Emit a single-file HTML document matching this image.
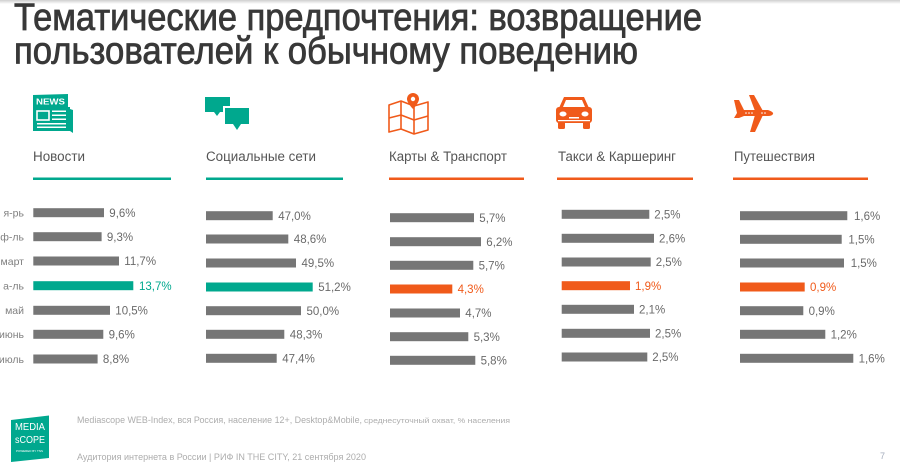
<!DOCTYPE html>
<html lang="ru">
<head>
<meta charset="utf-8">
<style>
  html,body{margin:0;padding:0;background:#fff;}
  body{width:900px;height:468px;overflow:hidden;}
  svg{display:block;font-family:"Liberation Sans","Noto Sans CJK SC",sans-serif;}
</style>
</head>
<body>
<svg width="900" height="468" viewBox="0 0 900 468" xmlns="http://www.w3.org/2000/svg">
  <defs>
    <linearGradient id="topg" x1="0" y1="0" x2="0" y2="1">
      <stop offset="0" stop-color="#cfcfcf"/>
      <stop offset="1" stop-color="#ffffff"/>
    </linearGradient>
  </defs>
  <rect x="0" y="0" width="900" height="468" fill="#fff"/>
  <rect x="0" y="0" width="900" height="4" fill="url(#topg)"/>

  <!-- Title -->
  <g fill="#383838" stroke="#383838" stroke-width="0.8">
  <text x="14" y="30" font-size="38" textLength="688" lengthAdjust="spacingAndGlyphs">Тематические предпочтения: возвращение</text>
  <text x="14" y="63.5" font-size="38" textLength="624" lengthAdjust="spacingAndGlyphs">пользователей к обычному поведению</text>
  </g>

  <!-- ICONS -->
  <!-- News icon -->
  <g>
    <polygon points="33,95 68,94 68,107 33,107" fill="#00a88e"/>
    <text x="36" y="104.5" font-size="8.5" font-weight="bold" fill="#fff" textLength="29" lengthAdjust="spacingAndGlyphs">NEWS</text>
    <rect x="33" y="107" width="37" height="24" fill="#00a88e"/>
    <polygon points="70,109 73,110 73,133 70,131" fill="#00a88e"/>
    <rect x="37" y="111" width="12" height="9" fill="none" stroke="#fff" stroke-width="1.6"/>
    <rect x="52" y="110.5" width="14" height="1.5" fill="#fff"/>
    <rect x="52" y="114.5" width="14" height="1.5" fill="#fff"/>
    <rect x="52" y="118.5" width="14" height="1.5" fill="#fff"/>
    <rect x="37" y="123" width="29" height="1.5" fill="#fff"/>
    <rect x="37" y="126.5" width="29" height="1.5" fill="#fff"/>
  </g>
  <!-- Chat icon -->
  <g>
    <rect x="205" y="97" width="25" height="15" fill="#00a88e"/>
    <polygon points="214,112 220,112 217,116" fill="#00a88e"/>
    <rect x="223" y="106" width="27" height="19" fill="#fff"/>
    <rect x="225" y="108" width="24" height="16" fill="#00a88e"/>
    <polygon points="233,124 241,124 237,130" fill="#00a88e"/>
  </g>
  <!-- Map icon -->
  <g fill="none" stroke="#f05a1a" stroke-width="1.6" stroke-linejoin="round">
    <polygon points="389,105 401,101 414,106 428,102 428,130 414,134 401,129 389,132"/>
    <line x1="401" y1="101" x2="401" y2="129"/>
    <line x1="414" y1="106" x2="414" y2="134"/>
    <polyline points="389,118 401,115 414,120 428,116"/>
  </g>
  <g>
    <path d="M413,93 a6,6 0 0 1 6,6 c0,4 -6,10 -6,10 c0,0 -6,-6 -6,-10 a6,6 0 0 1 6,-6 z" fill="#f05a1a"/>
    <circle cx="413" cy="99" r="2.2" fill="#fff"/>
  </g>
  <!-- Car icon -->
  <g>
    <path d="M564,97 L584,97 L589,108 L559,108 Z" fill="#f05a1a"/>
    <path d="M566,100 L582,100 L585,107 L563,107 Z" fill="#fff"/>
    <rect x="556" y="107" width="36" height="16" rx="3" fill="#f05a1a"/>
    <ellipse cx="563" cy="114" rx="3.5" ry="2.5" fill="#fff"/>
    <ellipse cx="585" cy="114" rx="3.5" ry="2.5" fill="#fff"/>
    <rect x="569" y="117" width="10" height="1.5" fill="#fff"/>
    <rect x="558" y="120" width="32" height="1.2" fill="#fff"/>
    <rect x="558" y="122" width="7" height="7" rx="1.5" fill="#f05a1a"/>
    <rect x="583" y="122" width="7" height="7" rx="1.5" fill="#f05a1a"/>
  </g>
  <!-- Plane icon -->
  <g fill="#f05a1a">
    <path d="M734,100 L739,100 L744,110 L768,110 Q774,112 773,114 Q772,116 768,116 L744,116 L739,118 L734,118 L737,113 Z"/>
    <polygon points="749,95 754,95 763,111 755,111"/>
    <polygon points="755,115 763,115 755,132 750,132"/>
    <circle cx="746" cy="113" r="0.8" fill="#fff"/>
    <circle cx="749" cy="113" r="0.8" fill="#fff"/>
    <circle cx="752" cy="113" r="0.8" fill="#fff"/>
    <circle cx="762" cy="113" r="0.8" fill="#fff"/>
    <circle cx="765" cy="113" r="0.8" fill="#fff"/>
  </g>

  <!-- Category labels -->
  <g font-size="13.5" fill="#555">
    <text x="33" y="161" textLength="52" lengthAdjust="spacingAndGlyphs">Новости</text>
    <text x="206" y="161" textLength="110" lengthAdjust="spacingAndGlyphs">Социальные сети</text>
    <text x="389" y="161" textLength="118" lengthAdjust="spacingAndGlyphs">Карты &amp; Транспорт</text>
    <text x="558" y="161" textLength="118" lengthAdjust="spacingAndGlyphs">Такси &amp; Каршеринг</text>
    <text x="734" y="161" textLength="81" lengthAdjust="spacingAndGlyphs">Путешествия</text>
  </g>

  <!-- Underlines -->
  <rect x="33" y="177.5" width="138" height="2.5" fill="#00a88e"/>
  <rect x="206" y="177.5" width="137" height="2.5" fill="#00a88e"/>
  <rect x="389" y="177.5" width="135" height="2.5" fill="#f05a1a"/>
  <rect x="557" y="177.5" width="136" height="2.5" fill="#f05a1a"/>
  <rect x="733" y="177.5" width="135" height="2.5" fill="#f05a1a"/>

  <!-- Row labels -->
  <g font-size="10.5" fill="#808080" text-anchor="end">
    <text x="24" y="216.5">я-рь</text>
    <text x="24" y="240.5">ф-ль</text>
    <text x="24" y="264.8">март</text>
    <text x="24" y="289.5">а-ль</text>
    <text x="24" y="314.1">май</text>
    <text x="24" y="338.1">июнь</text>
    <text x="24" y="362.8">июль</text>
  </g>

  <!-- Column 1: Новости -->
  <g font-size="11.5" fill="#6a6a6a">
    <rect x="33.3" y="208.2" width="70.7" height="9" fill="#767676"/><text x="109.3" y="216.8">9,6%</text>
    <rect x="33.3" y="232.2" width="68.3" height="9" fill="#767676"/><text x="106.9" y="240.8">9,3%</text>
    <rect x="33.3" y="256.5" width="85.7" height="9" fill="#767676"/><text x="124.3" y="265.1">11,7%</text>
    <rect x="33.3" y="281.2" width="100" height="9" fill="#00a88e"/><text x="139" y="289.8" fill="#00a88e">13,7%</text>
    <rect x="33.3" y="305.8" width="76.7" height="9" fill="#767676"/><text x="115.3" y="314.4">10,5%</text>
    <rect x="33.3" y="329.8" width="70" height="9" fill="#767676"/><text x="108.6" y="338.4">9,6%</text>
    <rect x="33.3" y="354.5" width="64.3" height="9" fill="#767676"/><text x="102.9" y="363.1">8,8%</text>
  </g>

  <!-- Column 2: Социальные сети -->
  <g font-size="11.5" fill="#6a6a6a">
    <rect x="206" y="211.2" width="66.7" height="9" fill="#767676"/><text x="278.2" y="219.8">47,0%</text>
    <rect x="206" y="234.5" width="82.3" height="9" fill="#767676"/><text x="293.8" y="243.1">48,6%</text>
    <rect x="206" y="258.5" width="90" height="9" fill="#767676"/><text x="301.5" y="267.1">49,5%</text>
    <rect x="206" y="282.5" width="106.7" height="9" fill="#00a88e"/><text x="318.2" y="291.1">51,2%</text>
    <rect x="206" y="306.2" width="95" height="9" fill="#767676"/><text x="306.5" y="314.8">50,0%</text>
    <rect x="206" y="329.8" width="78.3" height="9" fill="#767676"/><text x="289.8" y="338.4">48,3%</text>
    <rect x="206" y="353.8" width="70.7" height="9" fill="#767676"/><text x="282.2" y="362.4">47,4%</text>
  </g>

  <!-- Column 3: Карты & Транспорт -->
  <g font-size="11.5" fill="#6a6a6a">
    <rect x="390" y="213.2" width="84" height="9" fill="#767676"/><text x="479.3" y="221.8">5,7%</text>
    <rect x="390" y="237.2" width="91" height="9" fill="#767676"/><text x="486.3" y="245.8">6,2%</text>
    <rect x="390" y="260.8" width="83.3" height="9" fill="#767676"/><text x="478.6" y="269.4">5,7%</text>
    <rect x="390" y="284.5" width="62.3" height="9" fill="#f05a1a"/><text x="457.6" y="293.1" fill="#f05a1a">4,3%</text>
    <rect x="390" y="308.5" width="70" height="9" fill="#767676"/><text x="465.3" y="317.1">4,7%</text>
    <rect x="390" y="332.2" width="78.3" height="9" fill="#767676"/><text x="473.6" y="340.8">5,3%</text>
    <rect x="390" y="355.8" width="85.3" height="9" fill="#767676"/><text x="480.6" y="364.4">5,8%</text>
  </g>

  <!-- Column 4: Такси & Каршеринг -->
  <g font-size="11.5" fill="#6a6a6a">
    <rect x="561.7" y="209.8" width="87.6" height="9" fill="#767676"/><text x="654.3" y="218.4">2,5%</text>
    <rect x="561.7" y="233.8" width="92.3" height="9" fill="#767676"/><text x="659" y="242.4">2,6%</text>
    <rect x="561.7" y="257.5" width="89" height="9" fill="#767676"/><text x="655.7" y="266.1">2,5%</text>
    <rect x="561.7" y="281.2" width="68.3" height="9" fill="#f05a1a"/><text x="635" y="289.8" fill="#f05a1a">1,9%</text>
    <rect x="561.7" y="304.8" width="72.3" height="9" fill="#767676"/><text x="639" y="313.4">2,1%</text>
    <rect x="561.7" y="328.8" width="88.3" height="9" fill="#767676"/><text x="655" y="337.4">2,5%</text>
    <rect x="561.7" y="352.5" width="85.6" height="9" fill="#767676"/><text x="652.3" y="361.1">2,5%</text>
  </g>

  <!-- Column 5: Путешествия -->
  <g font-size="11.5" fill="#6a6a6a">
    <rect x="740" y="211.2" width="107.3" height="9" fill="#767676"/><text x="854" y="219.8">1,6%</text>
    <rect x="740" y="234.8" width="101.7" height="9" fill="#767676"/><text x="848.4" y="243.4">1,5%</text>
    <rect x="740" y="258.5" width="104" height="9" fill="#767676"/><text x="850.7" y="267.1">1,5%</text>
    <rect x="740" y="282.5" width="64.7" height="9" fill="#f05a1a"/><text x="810" y="291.1" fill="#f05a1a">0,9%</text>
    <rect x="740" y="306.2" width="63.3" height="9" fill="#767676"/><text x="808.6" y="314.8">0,9%</text>
    <rect x="740" y="329.8" width="85.3" height="9" fill="#767676"/><text x="830.6" y="338.4">1,2%</text>
    <rect x="740" y="353.8" width="113.3" height="9" fill="#767676"/><text x="858.6" y="362.4">1,6%</text>
  </g>

  <!-- Logo -->
  <g>
    <polygon points="11,420 49,415.5 49,458 11,462" fill="#00a88e"/>
    <text x="15" y="430" font-size="10" fill="#fff" textLength="30" lengthAdjust="spacingAndGlyphs">MEDIA</text>
    <text x="15" y="443" font-size="10" fill="#fff" textLength="30" lengthAdjust="spacingAndGlyphs">sCOPE</text>
    <text x="16" y="452" font-size="3" fill="#fff" textLength="27" lengthAdjust="spacingAndGlyphs">POWERED BY TNS</text>
  </g>

  <!-- Footer -->
  <text x="77" y="423" font-size="9" fill="#adadad" textLength="285" lengthAdjust="spacingAndGlyphs">Mediascope WEB-Index, вся Россия, население 12+, Desktop&amp;Mobile,</text>
  <text x="364" y="423" font-size="7.5" fill="#adadad" textLength="146" lengthAdjust="spacingAndGlyphs">среднесуточный охват, % населения</text>
  <text x="77" y="460" font-size="9" fill="#adadad" textLength="289" lengthAdjust="spacingAndGlyphs">Аудитория интернета в России | РИФ IN THE CITY, 21 сентября 2020</text>
  <text x="880" y="459" font-size="9" fill="#a6aebd">7</text>
</svg>
</body>
</html>
